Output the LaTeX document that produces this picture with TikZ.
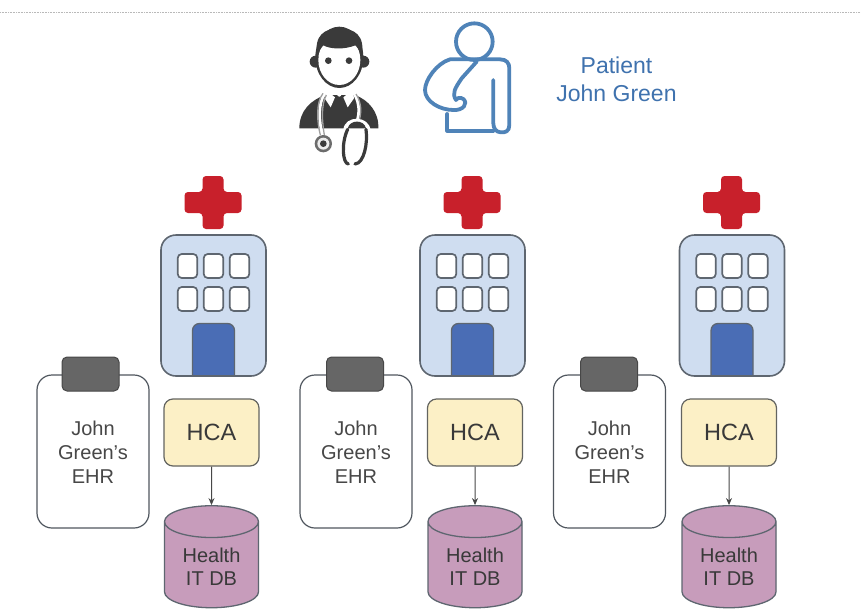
\documentclass[tikz,border=0pt]{standalone}
\usepackage{fontspec}
\setmainfont{Liberation Sans}
\usetikzlibrary{shapes.geometric,arrows.meta}
\definecolor{ink}{HTML}{474747}
\definecolor{edge}{HTML}{5E6670}
\definecolor{bldg}{HTML}{CFDDF0}
\definecolor{doorc}{HTML}{4A6DB5}
\definecolor{crossc}{HTML}{C8202B}
\definecolor{clipc}{HTML}{666666}
\definecolor{hcac}{HTML}{FCF0C6}
\definecolor{dbc}{HTML}{C79CBB}
\definecolor{ptb}{HTML}{4F83B8}
\definecolor{ptt}{HTML}{3F72AE}
\definecolor{doc}{HTML}{3A3A3A}
\tikzset{
  bldgbox/.style={draw=edge,fill=bldg,line width=1.6pt,rounded corners=15pt,rectangle,minimum width=105pt,minimum height=141pt,inner sep=0pt},
  winbox/.style={draw=edge,fill=white,line width=1.7pt,rounded corners=4pt,rectangle,minimum width=19.5pt,minimum height=24pt,inner sep=0pt},
  ehrbox/.style={draw=edge!85!black,fill=white,line width=1.2pt,rounded corners=15pt,rectangle,minimum width=112pt,minimum height=153pt,inner sep=0pt,align=center,text=ink,font=\fontsize{20}{24}\selectfont},
  clipbox/.style={draw=ink,fill=clipc,line width=1pt,rounded corners=5pt,rectangle,minimum width=57pt,minimum height=34pt,inner sep=0pt},
  hcabox/.style={draw=edge!70!hcac!70!black,fill=hcac,line width=1.2pt,rounded corners=9pt,rectangle,minimum width=95pt,minimum height=67pt,inner sep=0pt,text=ink!80!black,font=\fontsize{23.5}{28}\selectfont},
  dbbox/.style={draw=edge,fill=dbc,line width=1.3pt,cylinder,shape border rotate=90,aspect=0.55,cylinder uses custom fill,cylinder body fill=dbc,cylinder end fill=dbc,minimum width=94pt,minimum height=102pt,inner sep=0pt,align=center,text=ink!80!black,font=\fontsize{20}{23}\selectfont},
  linkarrow/.style={draw=ink,line width=1pt,-{Stealth[length=7pt,width=6pt]}},
  pttext/.style={text=ptt,align=center,font=\fontsize{23}{28}\selectfont},
  ptline/.style={draw=ptb,line width=3.8pt,line cap=round,line join=round}
}
\begin{document}
\begin{tikzpicture}[x=1pt,y=-1pt]
\useasboundingbox (0,0) rectangle (861,613);
\fill[white] (0,0) rectangle (861,613);
\draw[gray!55,line width=0.6pt,densely dotted] (0,12) -- (861,12);
% doctor
\begin{scope}[shift={(280,0)},scale=1/3]
\fill[doc] (58,385) .. controls (58,330) and (95,300) .. (135,285) -- (225,285) .. controls (265,300) and (297,335) .. (295,385) -- cycle;
\fill[white] (138,270) -- (165,292) -- (152,322) -- (134,295) -- cycle;
\fill[white] (218,270) -- (190,292) -- (203,322) -- (222,295) -- cycle;
\fill[white] (150,262) -- (205,262) -- (178,292) -- cycle;
\fill[doc] (166,290) -- (190,290) -- (185,305) -- (195,332) -- (178,348) -- (160,332) -- (171,305) -- cycle;
\fill[doc] (107,185) circle (18);
\fill[doc] (250,185) circle (18);
\fill[doc] (178,172) ellipse (72 and 92);
\fill[white] (178,180) ellipse (63 and 75);
\fill[doc] (112,170) .. controls (100,105) and (135,85) .. (178,85) .. controls (222,85) and (257,105) .. (245,170) .. controls (240,155) and (235,145) .. (226,136) .. controls (190,150) and (150,147) .. (130,136) .. controls (122,145) and (116,155) .. (112,170) -- cycle;
\fill[doc] (145,182) circle (10);
\fill[doc] (207,182) circle (10);
\draw[white,line width=2.8pt] (135,280) .. controls (112,310) and (118,370) .. (127,405);
\draw[gray!75,line width=1.3pt] (129,280) .. controls (106,310) and (112,370) .. (121,405);
\draw[gray!75,line width=1.3pt] (139,285) .. controls (122,315) and (127,370) .. (133,405);
\draw[white,line width=2.8pt] (222,280) .. controls (240,310) and (238,340) .. (232,360);
\draw[gray!75,line width=1.3pt] (228,282) .. controls (246,310) and (244,340) .. (238,360);
\fill[gray!85!black] (130,431) circle (26);
\fill[white!85!gray] (130,431) circle (18);
\fill[doc] (130,431) circle (10);
\fill[white] (190,388) .. controls (195,345) and (268,345) .. (272,392) -- (205,392) -- cycle;
\fill[doc] (203,385) .. controls (210,358) and (252,358) .. (258,385) -- cycle;
\draw[doc,line width=3.2pt,line cap=round] (203,388) .. controls (183,430) and (188,490) .. (205,492);
\draw[doc,line width=3.2pt,line cap=round] (258,388) .. controls (264,430) and (252,490) .. (225,492);
\end{scope}
% patient
\begin{scope}[shift={(280,0)},scale=1/3]
\draw[ptline] (583,125) circle (55);
\draw[ptline] (592,178) -- (510,178) .. controls (470,190) and (435,240) .. (435,270) .. controls (435,305) and (480,330) .. (520,330) .. controls (550,332) and (565,310) .. (550,297) .. controls (540,290) and (530,295) .. (528,300) .. controls (515,280) and (525,265) .. (545,235) -- (590,185);
\draw[ptline] (592,178) -- (660,178) .. controls (680,178) and (688,190) .. (688,205) -- (688,375) .. controls (688,395) and (675,398) .. (662,397) .. controls (648,396) and (640,385) .. (640,370) -- (640,240);
\draw[ptline] (502,342) -- (502,392) -- (640,392);
\end{scope}
\node[pttext] (ptname) at (616.5,79) {Patient\\John Green};
% three units
\foreach \n/\e/\k/\h/\c in {a/93/90.5/213.5/211.5, b/356/355/472.5/475, c/609.5/609/732/729}{
  \begin{scope}[shift={(\h,0)}]
    \fill[crossc,rounded corners=3.5pt] (-11,176) -- (10,176) -- (10,192) -- (28,192) -- (28,213) -- (10,213) -- (10,229) -- (-11,229) -- (-11,213) -- (-29,213) -- (-29,192) -- (-11,192) -- cycle;
    \node[bldgbox] (bldg\n) at (0,305.5) {};
    \node[winbox] (wa\n) at (-26,266) {};
    \node[winbox] (wb\n) at (0,266) {};
    \node[winbox] (wc\n) at (26,266) {};
    \node[winbox] (wd\n) at (-26,299) {};
    \node[winbox] (we\n) at (0,299) {};
    \node[winbox] (wf\n) at (26,299) {};
    \draw[edge,fill=doorc,line width=1.3pt,rounded corners=7pt] (-21,376) -- (-21,323.5) -- (21,323.5) -- (21,376);
    \draw[edge,fill=doorc,line width=1.3pt] (-21,376) -- (21,376);
  \end{scope}
  \node[ehrbox] (ehr\n) at (\e,451.5) {\rule{0pt}{16.5pt}John\\Green’s\\EHR};
  \node[clipbox] (clip\n) at (\k,374) {};
  \node[hcabox] (hca\n) at (\c,432.5) {HCA};
  \node[dbbox] (db\n) at (\c,565) {\rule{0pt}{18.5pt}Health\\IT DB};
  \draw[linkarrow] (hca\n.south) -- (db\n.north);
}
\end{tikzpicture}
\end{document}
